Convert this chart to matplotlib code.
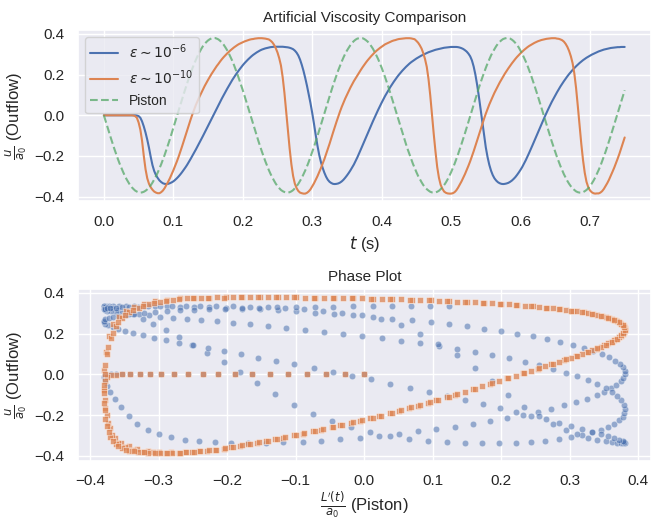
import numpy as np
import matplotlib
matplotlib.use("Agg")
import matplotlib.pyplot as plt
import seaborn as sns

# sample spacing of the simulation output (s)
DT = 0.0025

piston = [
    0.000, -0.028, -0.056, -0.084, -0.111, -0.138, -0.164, -0.189, -0.213, -0.236,
    -0.257, -0.277, -0.296, -0.313, -0.328, -0.342, -0.353, -0.362, -0.370, -0.375,
    -0.379, -0.380, -0.379, -0.376, -0.371, -0.364, -0.355, -0.344, -0.331, -0.316,
    -0.300, -0.282, -0.262, -0.241, -0.218, -0.195, -0.170, -0.144, -0.118, -0.090,
    -0.063, -0.035, -0.006, 0.022, 0.050, 0.078, 0.105, 0.132, 0.158, 0.184,
    0.208, 0.231, 0.253, 0.273, 0.292, 0.309, 0.325, 0.339, 0.350, 0.360,
    0.368, 0.374, 0.378, 0.380, 0.380, 0.377, 0.373, 0.366, 0.357, 0.347,
    0.334, 0.320, 0.304, 0.286, 0.267, 0.246, 0.223, 0.200, 0.175, 0.150,
    0.124, 0.097, 0.069, 0.041, 0.013, -0.016, -0.044, -0.072, -0.099, -0.126,
    -0.152, -0.178, -0.202, -0.226, -0.248, -0.269, -0.288, -0.305, -0.321, -0.336,
    -0.348, -0.358, -0.367, -0.373, -0.377, -0.380, -0.380, -0.378, -0.374, -0.368,
    -0.359, -0.349, -0.337, -0.323, -0.308, -0.290, -0.271, -0.251, -0.229, -0.205,
    -0.181, -0.156, -0.130, -0.103, -0.075, -0.047, -0.019, 0.009, 0.037, 0.065,
    0.093, 0.120, 0.147, 0.172, 0.197, 0.221, 0.243, 0.264, 0.284, 0.302,
    0.318, 0.332, 0.345, 0.356, 0.365, 0.372, 0.377, 0.379, 0.380, 0.379,
    0.375, 0.369, 0.362, 0.352, 0.340, 0.327, 0.311, 0.294, 0.276, 0.255,
    0.234, 0.211, 0.187, 0.162, 0.136, 0.109, 0.081, 0.054, 0.026, -0.003,
    -0.031, -0.059, -0.087, -0.114, -0.141, -0.167, -0.191, -0.215, -0.238, -0.259,
    -0.279, -0.298, -0.314, -0.329, -0.343, -0.354, -0.363, -0.370, -0.376, -0.379,
    -0.380, -0.379, -0.376, -0.371, -0.363, -0.354, -0.343, -0.330, -0.315, -0.298,
    -0.280, -0.260, -0.239, -0.216, -0.192, -0.167, -0.141, -0.115, -0.088, -0.060,
    -0.032, -0.004, 0.025, 0.053, 0.081, 0.108, 0.135, 0.161, 0.186, 0.210,
    0.233, 0.255, 0.275, 0.294, 0.311, 0.326, 0.340, 0.352, 0.361, 0.369,
    0.375, 0.378, 0.380, 0.379, 0.377, 0.372, 0.365, 0.356, 0.346, 0.333,
    0.318, 0.302, 0.284, 0.265, 0.244, 0.221, 0.198, 0.173, 0.147, 0.121,
    0.094, 0.066, 0.038, 0.010, -0.018, -0.046, -0.074, -0.102, -0.129, -0.155,
    -0.180, -0.205, -0.228, -0.250, -0.270, -0.290, -0.307, -0.323, -0.337, -0.349,
    -0.359, -0.367, -0.374, -0.378, -0.380, -0.380, -0.378, -0.373, -0.367, -0.359,
    -0.348, -0.336, -0.322, -0.306, -0.288, -0.269, -0.249, -0.226, -0.203, -0.179,
    -0.153, -0.127, -0.100, -0.072, -0.045, -0.016, 0.012, 0.040, 0.068, 0.096,
    0.123,
]

eps_1e6 = [
    0.000, 0.000, 0.000, 0.000, 0.000, 0.000, 0.000, 0.000, 0.000, 0.000,
    0.000, 0.000, 0.000, 0.000, 0.000, 0.000, 0.000, 0.000, 0.000, -0.001,
    -0.004, -0.012, -0.030, -0.055, -0.085, -0.120, -0.160, -0.205, -0.245, -0.274,
    -0.294, -0.308, -0.320, -0.328, -0.334, -0.337, -0.338, -0.337, -0.334, -0.330,
    -0.325, -0.318, -0.310, -0.301, -0.291, -0.280, -0.268, -0.256, -0.243, -0.229,
    -0.214, -0.199, -0.184, -0.168, -0.152, -0.136, -0.120, -0.103, -0.086, -0.069,
    -0.052, -0.035, -0.018, 0.000, 0.017, 0.034, 0.051, 0.067, 0.083, 0.099,
    0.115, 0.130, 0.145, 0.160, 0.174, 0.187, 0.200, 0.212, 0.224, 0.235,
    0.246, 0.256, 0.265, 0.274, 0.282, 0.290, 0.297, 0.303, 0.309, 0.314,
    0.319, 0.323, 0.326, 0.329, 0.331, 0.333, 0.335, 0.336, 0.337, 0.337,
    0.337, 0.337, 0.337, 0.337, 0.336, 0.335, 0.334, 0.332, 0.329, 0.325,
    0.318, 0.308, 0.294, 0.274, 0.248, 0.218, 0.183, 0.145, 0.103, 0.060,
    0.012, -0.040, -0.096, -0.148, -0.193, -0.229, -0.258, -0.282, -0.302, -0.317,
    -0.327, -0.333, -0.337, -0.338, -0.337, -0.335, -0.331, -0.325, -0.317, -0.307,
    -0.296, -0.284, -0.271, -0.257, -0.242, -0.225, -0.207, -0.188, -0.168, -0.148,
    -0.128, -0.108, -0.088, -0.068, -0.048, -0.029, -0.010, 0.009, 0.027, 0.045,
    0.062, 0.079, 0.095, 0.110, 0.125, 0.139, 0.152, 0.165, 0.177, 0.189,
    0.200, 0.210, 0.220, 0.229, 0.238, 0.246, 0.254, 0.261, 0.267, 0.273,
    0.279, 0.284, 0.289, 0.294, 0.298, 0.302, 0.306, 0.310, 0.313, 0.316,
    0.319, 0.322, 0.324, 0.326, 0.328, 0.330, 0.332, 0.333, 0.334, 0.335,
    0.336, 0.336, 0.336, 0.336, 0.335, 0.333, 0.330, 0.326, 0.320, 0.313,
    0.303, 0.290, 0.270, 0.240, 0.200, 0.150, 0.093, 0.030, -0.035, -0.100,
    -0.158, -0.205, -0.243, -0.272, -0.294, -0.310, -0.321, -0.329, -0.334, -0.337,
    -0.338, -0.337, -0.335, -0.332, -0.327, -0.321, -0.313, -0.304, -0.293, -0.281,
    -0.268, -0.254, -0.238, -0.221, -0.203, -0.184, -0.165, -0.145, -0.125, -0.105,
    -0.085, -0.065, -0.045, -0.025, -0.006, 0.013, 0.031, 0.049, 0.066, 0.082,
    0.098, 0.113, 0.128, 0.142, 0.155, 0.168, 0.180, 0.192, 0.203, 0.213,
    0.223, 0.232, 0.241, 0.249, 0.257, 0.264, 0.271, 0.277, 0.283, 0.288,
    0.293, 0.298, 0.302, 0.306, 0.310, 0.314, 0.317, 0.320, 0.323, 0.325,
    0.327, 0.329, 0.331, 0.332, 0.333, 0.334, 0.335, 0.335, 0.336, 0.336,
    0.336,
]

eps_1e10 = [
    0.000, 0.000, 0.000, 0.000, 0.000, 0.000, 0.000, 0.000, 0.000, 0.000,
    0.000, 0.000, 0.000, 0.000, 0.000, 0.000, 0.000, -0.001, -0.004, -0.012,
    -0.035, -0.070, -0.125, -0.200, -0.265, -0.310, -0.337, -0.354, -0.366, -0.375,
    -0.380, -0.383, -0.383, -0.378, -0.370, -0.358, -0.343, -0.327, -0.310, -0.291,
    -0.271, -0.250, -0.228, -0.205, -0.180, -0.154, -0.127, -0.100, -0.073, -0.046,
    -0.020, 0.005, 0.028, 0.051, 0.071, 0.090, 0.108, 0.126, 0.143, 0.159,
    0.174, 0.189, 0.203, 0.216, 0.229, 0.242, 0.253, 0.265, 0.276, 0.286,
    0.295, 0.304, 0.312, 0.320, 0.327, 0.334, 0.340, 0.346, 0.351, 0.355,
    0.359, 0.363, 0.366, 0.369, 0.372, 0.374, 0.375, 0.377, 0.378, 0.379,
    0.379, 0.379, 0.378, 0.377, 0.375, 0.373, 0.367, 0.359, 0.347, 0.330,
    0.309, 0.281, 0.245, 0.187, 0.111, 0.019, -0.076, -0.163, -0.240, -0.298,
    -0.336, -0.358, -0.372, -0.380, -0.383, -0.385, -0.385, -0.381, -0.374, -0.364,
    -0.350, -0.335, -0.318, -0.300, -0.280, -0.260, -0.238, -0.216, -0.191, -0.166,
    -0.140, -0.112, -0.085, -0.058, -0.032, -0.007, 0.018, 0.041, 0.062, 0.082,
    0.100, 0.118, 0.136, 0.152, 0.168, 0.182, 0.197, 0.210, 0.223, 0.236,
    0.248, 0.260, 0.271, 0.281, 0.291, 0.300, 0.309, 0.317, 0.324, 0.331,
    0.337, 0.343, 0.349, 0.353, 0.357, 0.361, 0.365, 0.368, 0.370, 0.373,
    0.375, 0.376, 0.377, 0.378, 0.379, 0.379, 0.379, 0.378, 0.376, 0.374,
    0.366, 0.357, 0.344, 0.328, 0.305, 0.276, 0.238, 0.178, 0.098, 0.004,
    -0.091, -0.177, -0.254, -0.307, -0.342, -0.361, -0.375, -0.381, -0.384, -0.385,
    -0.385, -0.383, -0.378, -0.369, -0.356, -0.341, -0.325, -0.307, -0.289, -0.269,
    -0.248, -0.226, -0.202, -0.177, -0.151, -0.124, -0.097, -0.070, -0.043, -0.017,
    0.008, 0.031, 0.053, 0.073, 0.092, 0.111, 0.128, 0.145, 0.161, 0.176,
    0.191, 0.205, 0.218, 0.231, 0.243, 0.255, 0.266, 0.277, 0.287, 0.296,
    0.305, 0.313, 0.321, 0.328, 0.335, 0.341, 0.346, 0.351, 0.356, 0.360,
    0.364, 0.367, 0.370, 0.372, 0.374, 0.376, 0.377, 0.378, 0.379, 0.379,
    0.379, 0.377, 0.376, 0.373, 0.369, 0.362, 0.351, 0.336, 0.316, 0.290,
    0.256, 0.205, 0.134, 0.045, -0.050, -0.140, -0.220, -0.283, -0.327, -0.353,
    -0.369, -0.378, -0.383, -0.385, -0.384, -0.384, -0.380, -0.373, -0.362, -0.348,
    -0.333, -0.316, -0.297, -0.277, -0.257, -0.235, -0.212, -0.188, -0.162, -0.136,
    -0.109,
]

labels = [r"$\epsilon \sim 10^{-6}$", r"$\epsilon \sim 10^{-10}$", "Piston"]


def main():
    sns.set_theme()
    plt.rcParams["font.family"] = ["Liberation Sans", "DejaVu Sans"]
    blue, orange, green = sns.color_palette("deep")[:3]

    t = np.arange(len(piston)) * DT

    fig, (ax1, ax2) = plt.subplots(2, 1, figsize=(6.54, 5.21), dpi=100)

    ax1.plot(t, eps_1e6, color=blue, lw=1.5, label=labels[0])
    ax1.plot(t, eps_1e10, color=orange, lw=1.5, label=labels[1])
    ax1.plot(t, piston, "--", color=green, lw=1.5, alpha=0.75, label=labels[2])
    ax1.set_title("Artificial Viscosity Comparison", fontsize=11)
    ax1.set_xlabel(r"$t$ (s)")
    ax1.set_ylabel(r"$\frac{u}{a_0}$ (Outflow)")
    ax1.legend(loc="upper left", fontsize=10)

    ax2.scatter(piston, eps_1e6, s=22, color=blue, alpha=0.55,
                edgecolors="white", linewidths=0.4)
    ax2.scatter(piston, eps_1e10, s=22, marker="s", color=orange, alpha=0.75,
                edgecolors="white", linewidths=0.4)
    ax2.set_title("Phase Plot", fontsize=11)
    ax2.set_xlabel(r"$\frac{L'(t)}{a_0}$ (Piston)", labelpad=2)
    ax2.set_ylabel(r"$\frac{u}{a_0}$ (Outflow)")

    fig.subplots_adjust(left=0.119, right=0.995, top=0.942, bottom=0.116, hspace=0.514)
    fig.savefig("out.png")
    plt.close(fig)


if __name__ == "__main__":
    main()
